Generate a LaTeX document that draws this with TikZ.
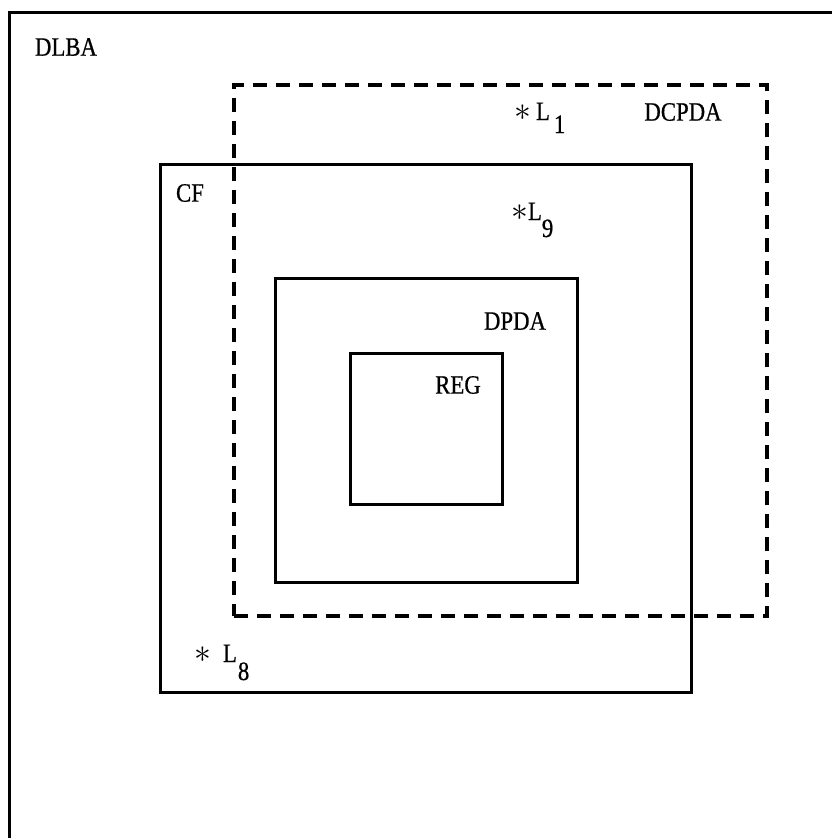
\documentclass[tikz,border=0pt]{standalone}
\usepackage{fontspec}
\setmainfont{Liberation Serif}[FakeStretch=0.86,FakeBold=0.6]
\newcommand{\myast}{\scalebox{1.35}{$\ast$}}
\begin{document}
\begin{tikzpicture}[x=1pt,y=-1pt,
  solidbox/.style={draw, line width=3pt, inner sep=0pt, outer sep=0pt, anchor=north west},
  dashbox/.style={draw, line width=3.2pt, dash pattern=on 14pt off 9pt, inner sep=0pt, outer sep=0pt, anchor=north west},
  lbl/.style={font=\fontsize{26.5}{30}\selectfont, inner sep=0pt},
  lang/.style={font=\fontsize{26.5}{30}\selectfont, inner sep=0pt, anchor=base west}]
\useasboundingbox (0,0) rectangle (832,838);
% outer DLBA region (only top and left edges visible)
\coordinate (obl) at (9,840);
\coordinate (otl) at (9,12);
\coordinate (otr) at (834,12);
\draw[line width=3pt] (obl) -- (otl) -- (otr);
\node[lbl] (dlba) at (66,47) {DLBA};
% DCPDA dashed box
\node[dashbox, minimum width=533pt, minimum height=531pt] (dcpda) at (234,85) {};
\node[lbl] (dcpdalbl) at (683,112) {DCPDA};
% CF box
\node[solidbox, minimum width=531pt, minimum height=528pt] (cf) at (160,164) {};
\node[lbl] (cflbl) at (190,193) {CF};
% DPDA box
\node[solidbox, minimum width=302pt, minimum height=304pt] (dpda) at (275,278) {};
\node[lbl] (dpdalbl) at (515,321) {DPDA};
% REG box
\node[solidbox, minimum width=152pt, minimum height=151pt] (reg) at (350,353) {};
\node[lbl] (reglbl) at (458,385) {REG};
% languages
\node[lang] (l1) at (514,120) {\myast\hspace{5pt}L\hspace{4pt}\raisebox{-13pt}{1}};
\node[lang] (l9) at (511,220) {\myast L\raisebox{-17pt}{9}};
\node[lang] (l8) at (194,662) {\myast\hspace{12pt}L\hspace{1pt}\raisebox{-18pt}{8}};
\end{tikzpicture}
\end{document}
